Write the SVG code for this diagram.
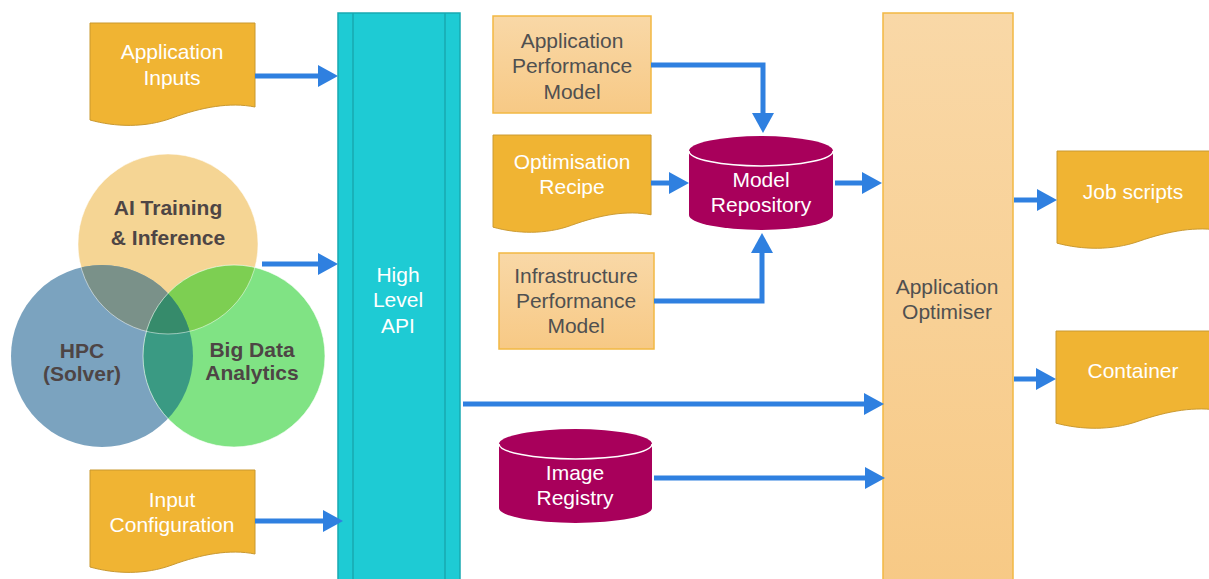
<svg xmlns="http://www.w3.org/2000/svg" width="1209" height="579" viewBox="0 0 1209 579">
  <defs>
    <style>
      .doc { fill: #F0B433; stroke: #C9982F; stroke-width: 1; }
      .docText { fill: #FFFFFF; font-family: "Liberation Sans", Arial, sans-serif; font-size: 21px; text-anchor: middle; }
      .boxText { fill: #505050; font-family: "Liberation Sans", Arial, sans-serif; font-size: 21px; text-anchor: middle; }
      .vennText { fill: #4E4545; font-family: "Liberation Sans", Arial, sans-serif; font-size: 21px; font-weight: bold; text-anchor: middle; }
      .model { fill: url(#peach); stroke: #F2B843; stroke-width: 1.5; }
      .cyl { fill: #A8005B; }
      .rim { fill: none; stroke: #FFFFFF; stroke-width: 1.5; }
      .flow { fill: none; stroke: #2F80E0; stroke-width: 5; marker-end: url(#head); }
    </style>
    <linearGradient id="peach" x1="0" y1="0" x2="0" y2="1">
      <stop offset="0" stop-color="#F9D8A7"/>
      <stop offset="1" stop-color="#F7C985"/>
    </linearGradient>
    <marker id="head" viewBox="0 0 20 22" markerWidth="20" markerHeight="22" markerUnits="userSpaceOnUse" refX="2" refY="11" orient="auto">
      <path d="M0,0 L20,11 L0,22 Z" fill="#2F80E0"/>
    </marker>
    <!-- document shape with wavy bottom edge -->
    <path id="docShape" d="M0,0 H165 V84 C140,79 112,84 82,95 C55,105 25,104 0,97 Z"/>
    <clipPath id="clipAI"><circle cx="168" cy="244" r="90"/></clipPath>
    <clipPath id="clipHPC"><circle cx="102" cy="356" r="91"/></clipPath>
  </defs>

  <rect width="1209" height="579" fill="#FFFFFF"/>

  <!-- High Level API bar -->
  <g id="api">
    <rect x="338" y="13" width="122" height="580" fill="#1ECBD4" stroke="#19A9B1" stroke-width="1.5"/>
    <line x1="353" y1="13" x2="353" y2="579" stroke="#19A9B1" stroke-width="1.5"/>
    <line x1="445" y1="13" x2="445" y2="579" stroke="#19A9B1" stroke-width="1.5"/>
    <text class="docText" x="398" y="282">High</text>
    <text class="docText" x="398" y="307">Level</text>
    <text class="docText" x="398" y="333">API</text>
  </g>

  <!-- Application Optimiser column -->
  <g id="optimiser">
    <rect x="883" y="13" width="130" height="580" fill="url(#peach)" stroke="#F2B843" stroke-width="1.5"/>
    <text class="boxText" x="947" y="294">Application</text>
    <text class="boxText" x="947" y="319">Optimiser</text>
  </g>

  <!-- Workload Venn diagram -->
  <g id="workloads">
    <circle cx="168" cy="244" r="90" fill="#F5D594"/>
    <circle cx="102" cy="356" r="91" fill="#7BA3BF"/>
    <circle cx="234" cy="356" r="91" fill="#80E384"/>
    <circle cx="102" cy="356" r="91" fill="#7A9189" clip-path="url(#clipAI)"/>
    <circle cx="234" cy="356" r="91" fill="#7DCF52" clip-path="url(#clipAI)"/>
    <circle cx="234" cy="356" r="91" fill="#3A9A83" clip-path="url(#clipHPC)"/>
    <g clip-path="url(#clipAI)">
      <circle cx="234" cy="356" r="91" fill="#368B6B" clip-path="url(#clipHPC)"/>
    </g>
    <circle cx="168" cy="244" r="90" fill="none" stroke="#FFFFFF" stroke-opacity="0.5" stroke-width="1"/>
    <circle cx="234" cy="356" r="91" fill="none" stroke="#FFFFFF" stroke-opacity="0.6" stroke-width="1"/>
    <text class="vennText" x="168" y="215">AI Training</text>
    <text class="vennText" x="168" y="245">&amp; Inference</text>
    <text class="vennText" x="82" y="358">HPC</text>
    <text class="vennText" x="82" y="381">(Solver)</text>
    <text class="vennText" x="252" y="357">Big Data</text>
    <text class="vennText" x="252" y="380">Analytics</text>
  </g>

  <g id="application-inputs">
    <use href="#docShape" class="doc" transform="translate(90,23)"/>
    <text class="docText" x="172" y="59">Application</text>
    <text class="docText" x="172" y="85">Inputs</text>
  </g>

  <g id="input-configuration">
    <use href="#docShape" class="doc" transform="translate(90,470)"/>
    <text class="docText" x="172" y="507">Input</text>
    <text class="docText" x="172" y="532">Configuration</text>
  </g>

  <g id="application-performance-model">
    <rect class="model" x="493" y="16" width="158" height="97"/>
    <text class="boxText" x="572" y="48">Application</text>
    <text class="boxText" x="572" y="73">Performance</text>
    <text class="boxText" x="572" y="99">Model</text>
  </g>

  <g id="optimisation-recipe">
    <use href="#docShape" class="doc" transform="translate(493,135) scale(0.958,0.95)"/>
    <text class="docText" x="572" y="169">Optimisation</text>
    <text class="docText" x="572" y="194">Recipe</text>
  </g>

  <g id="model-repository">
    <path class="cyl" d="M689,151 V215 A72,15 0 0 0 833,215 V151 A72,15 0 0 0 689,151 Z"/>
    <path class="rim" d="M689,151 A72,15 0 0 0 833,151"/>
    <text class="docText" x="761" y="187">Model</text>
    <text class="docText" x="761" y="212">Repository</text>
  </g>

  <g id="infrastructure-performance-model">
    <rect class="model" x="499" y="253" width="155" height="96"/>
    <text class="boxText" x="576" y="283">Infrastructure</text>
    <text class="boxText" x="576" y="308">Performance</text>
    <text class="boxText" x="576" y="333">Model</text>
  </g>

  <g id="image-registry">
    <path class="cyl" d="M499,444 V508 A76.5,15 0 0 0 652,508 V444 A76.5,15 0 0 0 499,444 Z"/>
    <path class="rim" d="M499,444 A76.5,15 0 0 0 652,444"/>
    <text class="docText" x="575" y="480">Image</text>
    <text class="docText" x="575" y="505">Registry</text>
  </g>

  <g id="job-scripts">
    <use href="#docShape" class="doc" transform="translate(1057,151) scale(1,0.95)"/>
    <text class="docText" x="1133" y="199">Job scripts</text>
  </g>

  <g id="container">
    <use href="#docShape" class="doc" transform="translate(1056,331) scale(1,0.95)"/>
    <text class="docText" x="1133" y="378">Container</text>
  </g>

  <g id="connectors">
    <path class="flow" d="M255,76 H320"/>
    <path class="flow" d="M262,264 H320"/>
    <path class="flow" d="M255,521 H325"/>
    <path class="flow" d="M651,65 H763 V115"/>
    <path class="flow" d="M651,183 H671"/>
    <path class="flow" d="M835,183 H864"/>
    <path class="flow" d="M654,301 H762 V251"/>
    <path class="flow" d="M463,404 H866"/>
    <path class="flow" d="M654,478 H867"/>
    <path class="flow" d="M1014,200 H1039"/>
    <path class="flow" d="M1014,379 H1038"/>
  </g>
</svg>
